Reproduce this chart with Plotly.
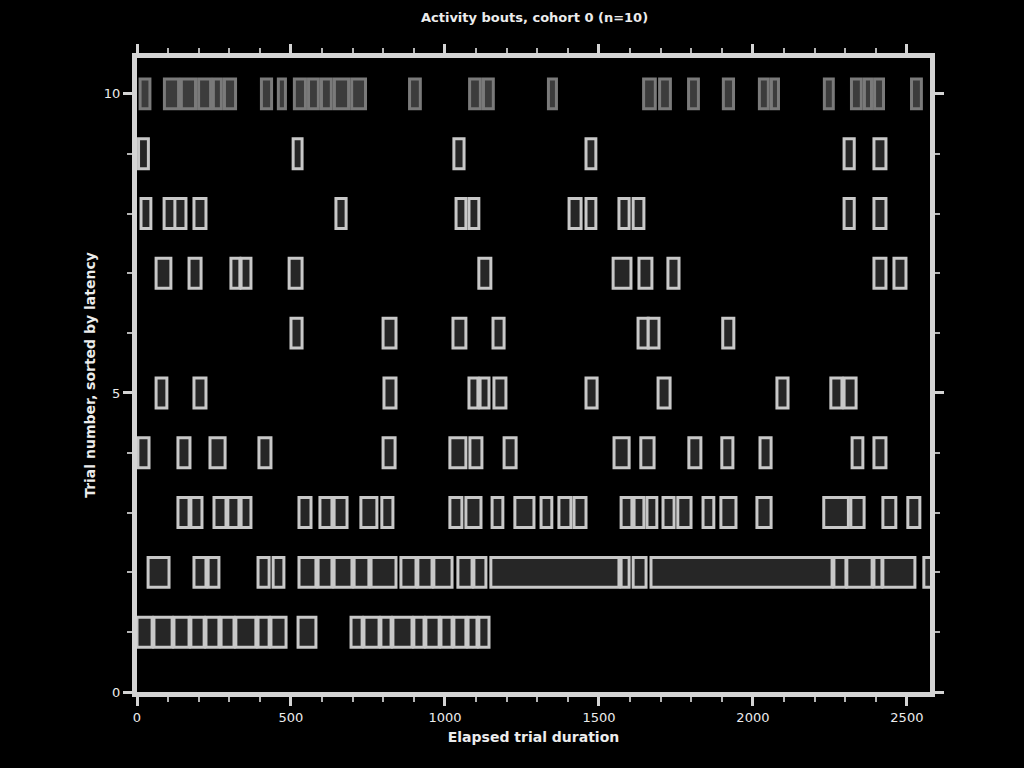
import plotly.graph_objects as go

title_text = "Activity bouts, cohort 0 (n=10)"
x_label = "Elapsed trial duration"
y_label = "Trial number, sorted by latency"

rows = [1, 2, 3, 4, 5, 6, 7, 8, 9, 10]

row1_start = [0, 55, 120, 175, 224, 273, 321, 393, 435, 523, 695, 737, 792, 831, 899, 938, 987, 1029, 1075, 1110]
row1_dur = [49, 59, 49, 43, 42, 42, 65, 36, 49, 58, 36, 49, 33, 62, 33, 43, 36, 39, 29, 33]

row2_start = [36, 185, 231, 393, 442, 526, 588, 640, 705, 760, 857, 912, 964, 1042, 1094, 1149, 1572, 1611, 1669, 2263, 2305, 2393, 2422, 2555]
row2_dur = [68, 39, 35, 36, 35, 55, 45, 58, 48, 81, 49, 46, 59, 46, 39, 416, 26, 42, 588, 39, 82, 26, 104, 26]

row3_start = [133, 175, 250, 295, 338, 526, 594, 640, 727, 795, 1016, 1068, 1153, 1227, 1312, 1370, 1419, 1572, 1614, 1656, 1708, 1756, 1838, 1896, 2013, 2230, 2318, 2422, 2503]
row3_dur = [36, 36, 39, 36, 32, 39, 39, 42, 52, 36, 39, 49, 35, 62, 35, 39, 39, 35, 32, 32, 36, 43, 35, 49, 46, 80, 43, 42, 39]

row4_start = [3, 133, 237, 396, 799, 1016, 1081, 1192, 1549, 1636, 1792, 1899, 2023, 2322, 2393]
row4_dur = [36, 39, 49, 39, 39, 52, 39, 39, 49, 43, 39, 36, 36, 35, 39]

row5_start = [62, 185, 802, 1078, 1114, 1159, 1458, 1692, 2078, 2253, 2296]
row5_dur = [35, 39, 39, 29, 29, 39, 36, 39, 36, 36, 39]

row6_start = [500, 799, 1026, 1156, 1627, 1660, 1902]
row6_dur = [36, 42, 42, 36, 33, 35, 36]

row7_start = [62, 169, 305, 338, 494, 1110, 1546, 1630, 1724, 2393, 2458]
row7_dur = [48, 39, 29, 32, 42, 39, 58, 42, 36, 39, 39]

row8_start = [13, 88, 123, 185, 646, 1036, 1078, 1403, 1458, 1565, 1611, 2296, 2393]
row8_dur = [32, 38, 36, 39, 33, 32, 32, 39, 32, 33, 35, 33, 39]

row9_start = [5, 507, 1029, 1458, 2296, 2393]
row9_dur = [32, 29, 33, 32, 33, 39]

row10_start = [10, 89, 144, 200, 248, 284, 404, 459, 511, 557, 599, 641, 697, 885, 1080, 1125, 1336, 1645, 1697, 1791, 1904, 2021, 2060, 2232, 2320, 2362, 2395, 2515]
row10_dur = [32, 46, 46, 39, 26, 36, 33, 23, 36, 32, 32, 46, 45, 35, 35, 32, 26, 38, 35, 32, 33, 29, 23, 29, 32, 23, 29, 32]

starts = [row1_start, row2_start, row3_start, row4_start, row5_start,
          row6_start, row7_start, row8_start, row9_start, row10_start]
durs = [row1_dur, row2_dur, row3_dur, row4_dur, row5_dur,
        row6_dur, row7_dur, row8_dur, row9_dur, row10_dur]

x_tick_vals = [0, 500, 1000, 1500, 2000, 2500]
x_tick_text = ["0", "500", "1000", "1500", "2000", "2500"]
y_tick_vals = [0, 5, 10]
y_tick_text = ["0", "5", "10"]

fig = go.Figure()
for r, s, d in zip(rows, starts, durs):
    dim = (r == 10)
    fig.add_trace(go.Bar(
        y=[r] * len(s),
        x=d,
        base=s,
        orientation="h",
        width=0.5,
        marker=dict(
            color="#3c3c3c" if dim else "#262626",
            line=dict(color="#7a7a7a" if dim else "#c8c8c8", width=3),
        ),
        showlegend=False,
        hoverinfo="skip",
    ))

axis_common = dict(
    showline=True, linecolor="#d4d4d4", linewidth=5, mirror="ticks",
    ticks="outside", tickcolor="#d4d4d4", tickwidth=3, ticklen=9,
    showgrid=False, zeroline=False,
    tickfont=dict(family="DejaVu Sans", size=13, color="#ececec"),
)

fig.update_layout(
    width=1024, height=768,
    paper_bgcolor="#000000", plot_bgcolor="#000000",
    margin=dict(l=137, r=94, t=58, b=76),
    barmode="overlay",
    title=dict(text="<b>" + title_text + "</b>", x=0.522, xanchor="center",
               y=0.977, yanchor="middle",
               font=dict(family="DejaVu Sans", size=13, color="#ececec")),
    xaxis=dict(
        range=[0, 2575], tickvals=x_tick_vals, ticktext=x_tick_text,
        minor=dict(dtick=100, tick0=0, ticks="outside", ticklen=5,
                   tickcolor="#b4b4b4", tickwidth=2),
        title=dict(text="<b>" + x_label + "</b>", standoff=10,
                   font=dict(family="DejaVu Sans", size=14, color="#ececec")),
        **axis_common,
    ),
    yaxis=dict(
        range=[0, 10.6], tickvals=y_tick_vals, ticktext=y_tick_text,
        minor=dict(dtick=1, tick0=0, ticks="outside", ticklen=5,
                   tickcolor="#b4b4b4", tickwidth=2),
        title=dict(text="<b>" + y_label + "</b>", standoff=6,
                   font=dict(family="DejaVu Sans", size=14, color="#ececec")),
        **axis_common,
    ),
)

fig.write_html("out.html")
